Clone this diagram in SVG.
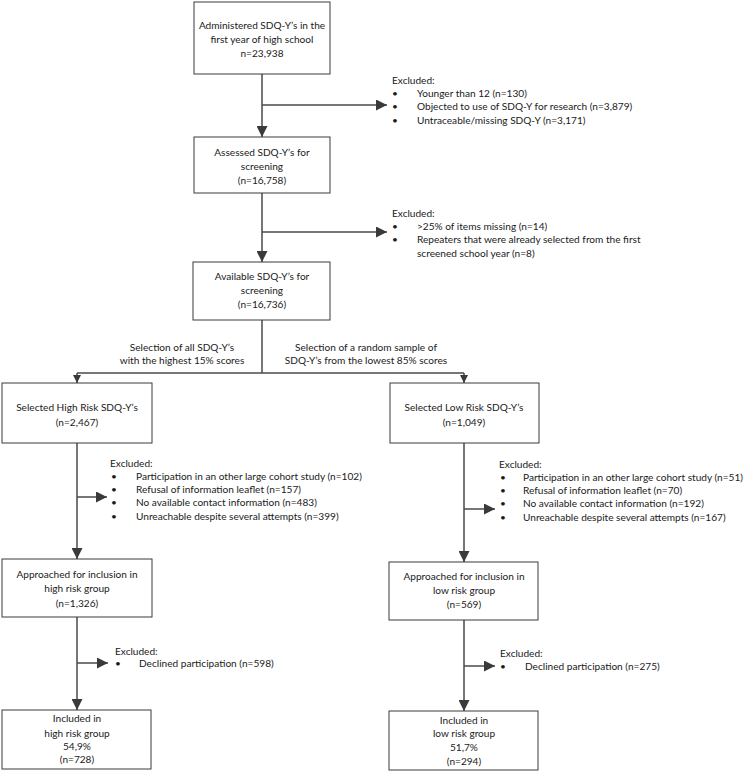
<svg xmlns="http://www.w3.org/2000/svg" width="751" height="772" viewBox="0 0 751 772">
<style>
  .box { fill: #ffffff; stroke: #3a3a3a; stroke-width: 1; }
  .t { font-family: Lato, "Liberation Sans", sans-serif; font-size: 10.1px; fill: #1a1a1a; }
  .c { text-anchor: middle; }
  .ln { fill: none; stroke: #4a4a4a; stroke-width: 1.5; }
</style>
<defs>
  <marker id="ah" viewBox="0 0 10 10" refX="10" refY="5" markerWidth="8" markerHeight="8" markerUnits="userSpaceOnUse" orient="auto">
    <path d="M0,0 L10,5 L0,10 z" fill="#3a3a3a"/>
  </marker>
  <marker id="ahL" viewBox="0 0 10 10" refX="10" refY="5" markerWidth="11" markerHeight="11" markerUnits="userSpaceOnUse" orient="auto">
    <path d="M0,0 L10,5 L0,10 z" fill="#3a3a3a"/>
  </marker>
</defs>
<rect width="751" height="772" fill="#ffffff"/>

<g id="connectors">
  <path class="ln" d="M262,74 V137" marker-end="url(#ahL)"/>
  <path class="ln" d="M262,105 H387" marker-end="url(#ahL)"/>
  <path class="ln" d="M262,193 V262" marker-end="url(#ahL)"/>
  <path class="ln" d="M262,232 H387" marker-end="url(#ahL)"/>
  <path class="ln" d="M262,320 V373"/>
  <path class="ln" d="M77,373 H464"/>
  <path class="ln" d="M77,373 V383" marker-end="url(#ah)"/>
  <path class="ln" d="M464,373 V383" marker-end="url(#ah)"/>
  <path class="ln" d="M77,443 V559" marker-end="url(#ahL)"/>
  <path class="ln" d="M77,497 H107" marker-end="url(#ahL)"/>
  <path class="ln" d="M77,617 V710" marker-end="url(#ahL)"/>
  <path class="ln" d="M77,663 H108" marker-end="url(#ahL)"/>
  <path class="ln" d="M464,443 V562" marker-end="url(#ahL)"/>
  <path class="ln" d="M464,509 H495" marker-end="url(#ahL)"/>
  <path class="ln" d="M464,620 V711" marker-end="url(#ahL)"/>
  <path class="ln" d="M464,666 H495" marker-end="url(#ahL)"/>
</g>

<g id="n1">
  <rect class="box" x="194" y="2" width="136" height="72"/>
  <text class="t c" x="262" y="29">Administered SDQ-Y’s in the</text>
  <text class="t c" x="262" y="43">first year of high school</text>
  <text class="t c" x="262" y="57">n=23,938</text>
</g>

<g id="ex1">
  <text class="t" x="392" y="84">Excluded:</text>
  <text class="t" x="392" y="97">•</text><text class="t" x="417" y="97">Younger than 12 (n=130)</text>
  <text class="t" x="392" y="110">•</text><text class="t" x="417" y="110">Objected to use of SDQ-Y for research (n=3,879)</text>
  <text class="t" x="392" y="124">•</text><text class="t" x="417" y="124">Untraceable/missing SDQ-Y (n=3,171)</text>
</g>

<g id="n2">
  <rect class="box" x="194" y="137" width="136" height="56"/>
  <text class="t c" x="262" y="156">Assessed SDQ-Y’s for</text>
  <text class="t c" x="262" y="170">screening</text>
  <text class="t c" x="262" y="184">(n=16,758)</text>
</g>

<g id="ex2">
  <text class="t" x="392" y="217">Excluded:</text>
  <text class="t" x="392" y="230">•</text><text class="t" x="417" y="230">&gt;25% of items missing (n=14)</text>
  <text class="t" x="392" y="243">•</text><text class="t" x="417" y="243">Repeaters that were already selected from the first</text>
  <text class="t" x="417" y="257">screened school year (n=8)</text>
</g>

<g id="n3">
  <rect class="box" x="193" y="262" width="137" height="58"/>
  <text class="t c" x="262" y="280">Available SDQ-Y’s for</text>
  <text class="t c" x="262" y="294">screening</text>
  <text class="t c" x="262" y="308">(n=16,736)</text>
</g>

<g id="sel-labels">
  <text class="t c" x="182" y="351">Selection of all SDQ-Y’s</text>
  <text class="t c" x="182" y="364">with the highest 15% scores</text>
  <text class="t c" x="366" y="351">Selection of a random sample of</text>
  <text class="t c" x="366" y="364">SDQ-Y’s from the lowest 85% scores</text>
</g>

<g id="nL1">
  <rect class="box" x="2" y="383" width="150" height="60"/>
  <text class="t c" x="77" y="411">Selected High Risk SDQ-Y’s</text>
  <text class="t c" x="77" y="426">(n=2,467)</text>
</g>

<g id="nR1">
  <rect class="box" x="390" y="383" width="149" height="60"/>
  <text class="t c" x="464" y="411">Selected Low Risk SDQ-Y’s</text>
  <text class="t c" x="464" y="426">(n=1,049)</text>
</g>

<g id="exL1">
  <text class="t" x="110" y="467">Excluded:</text>
  <text class="t" x="111" y="480">•</text><text class="t" x="136" y="480">Participation in an other large cohort study (n=102)</text>
  <text class="t" x="111" y="493">•</text><text class="t" x="136" y="493">Refusal of information leaflet (n=157)</text>
  <text class="t" x="111" y="506">•</text><text class="t" x="136" y="506">No available contact information (n=483)</text>
  <text class="t" x="111" y="520">•</text><text class="t" x="136" y="520">Unreachable despite several attempts (n=399)</text>
</g>

<g id="exR1">
  <text class="t" x="499" y="468">Excluded:</text>
  <text class="t" x="500" y="481">•</text><text class="t" x="523" y="481">Participation in an other large cohort study (n=51)</text>
  <text class="t" x="500" y="494">•</text><text class="t" x="523" y="494">Refusal of information leaflet (n=70)</text>
  <text class="t" x="500" y="507">•</text><text class="t" x="523" y="507">No available contact information (n=192)</text>
  <text class="t" x="500" y="521">•</text><text class="t" x="523" y="521">Unreachable despite several attempts (n=167)</text>
</g>

<g id="nL2">
  <rect class="box" x="2" y="559" width="150" height="58"/>
  <text class="t c" x="77" y="578">Approached for inclusion in</text>
  <text class="t c" x="77" y="592">high risk group</text>
  <text class="t c" x="77" y="607">(n=1,326)</text>
</g>

<g id="nR2">
  <rect class="box" x="389" y="562" width="149" height="58"/>
  <text class="t c" x="464" y="580">Approached for inclusion in</text>
  <text class="t c" x="464" y="594">low risk group</text>
  <text class="t c" x="464" y="608">(n=569)</text>
</g>

<g id="exL2">
  <text class="t" x="115" y="655">Excluded:</text>
  <text class="t" x="115" y="667">•</text><text class="t" x="139" y="667">Declined participation (n=598)</text>
</g>

<g id="exR2">
  <text class="t" x="500" y="657">Excluded:</text>
  <text class="t" x="500" y="670">•</text><text class="t" x="525" y="670">Declined participation (n=275)</text>
</g>

<g id="nL3">
  <rect class="box" x="2" y="710" width="149" height="59"/>
  <text class="t c" x="77" y="722">Included in</text>
  <text class="t c" x="77" y="737">high risk group</text>
  <text class="t c" x="77" y="750">54,9%</text>
  <text class="t c" x="77" y="763">(n=728)</text>
</g>

<g id="nR3">
  <rect class="box" x="389" y="711" width="149" height="59"/>
  <text class="t c" x="464" y="724">Included in</text>
  <text class="t c" x="464" y="737">low risk group</text>
  <text class="t c" x="464" y="751">51,7%</text>
  <text class="t c" x="464" y="765">(n=294)</text>
</g>
</svg>
